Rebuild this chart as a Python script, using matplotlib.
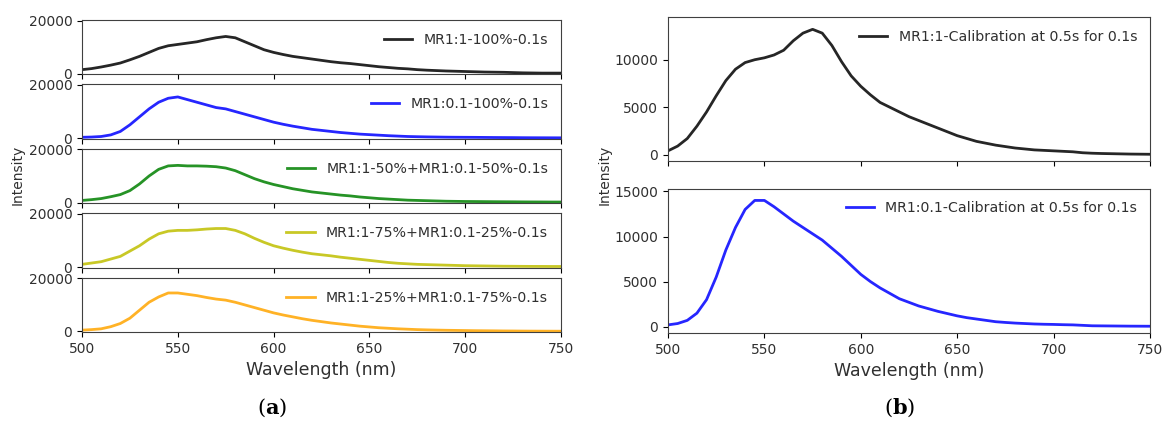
import matplotlib
matplotlib.use("Agg")
import matplotlib.pyplot as plt

wavelength = list(range(500, 751, 5))

mr1_100 = [1500, 1900, 2500, 3200, 4000, 5200, 6500, 8000, 9500, 10500,
           11000, 11500, 12000, 12800, 13500, 14000, 13500, 12000, 10500, 9000,
           8000, 7200, 6500, 6000, 5500, 5000, 4500, 4100, 3800, 3400,
           3000, 2600, 2300, 2000, 1800, 1500, 1300, 1150, 1000, 900,
           800, 700, 600, 550, 500, 400, 300, 250, 200, 200, 200]
mr01_100 = [300, 400, 600, 1200, 2500, 5000, 8000, 11000, 13500, 15000,
            15500, 14500, 13500, 12500, 11500, 11000, 10000, 9000, 8000, 7000,
            6000, 5200, 4500, 3900, 3300, 2900, 2500, 2100, 1800, 1500,
            1300, 1100, 900, 750, 600, 520, 450, 400, 350, 320,
            300, 280, 250, 220, 200, 180, 150, 130, 120, 110, 100]
mix_50_50 = [800, 1100, 1500, 2200, 3000, 4500, 7000, 10000, 12500, 13800,
             14000, 13800, 13800, 13700, 13500, 13000, 12000, 10500, 9000, 7800,
             6800, 6000, 5200, 4600, 4000, 3600, 3200, 2800, 2500, 2100,
             1800, 1500, 1300, 1100, 900, 800, 700, 600, 500, 450,
             400, 380, 350, 320, 300, 280, 250, 230, 220, 200, 200]
mix_75_25 = [1000, 1500, 2000, 3000, 4000, 6000, 8000, 10500, 12500, 13500,
             13800, 13800, 14000, 14300, 14500, 14500, 13800, 12500, 10800, 9300,
             8000, 7100, 6300, 5600, 5000, 4600, 4200, 3700, 3300, 2900,
             2500, 2100, 1700, 1400, 1200, 1000, 900, 800, 700, 600,
             500, 450, 400, 350, 300, 280, 250, 230, 220, 200, 200]
mix_25_75 = [500, 700, 1000, 1800, 3000, 5000, 8000, 11000, 13000, 14500,
             14500, 14000, 13500, 12800, 12200, 11800, 11000, 10000, 9000, 8000,
             7000, 6200, 5500, 4800, 4200, 3700, 3200, 2800, 2400, 2000,
             1700, 1400, 1200, 1000, 850, 700, 600, 520, 450, 400,
             350, 300, 270, 240, 200, 180, 150, 130, 120, 110, 100]
cal_mr1 = [400, 900, 1700, 3000, 4500, 6200, 7800, 9000, 9700, 10000,
           10200, 10500, 11000, 12000, 12800, 13200, 12800, 11500, 9800, 8300,
           7200, 6300, 5500, 5000, 4500, 4000, 3600, 3200, 2800, 2400,
           2000, 1700, 1400, 1200, 1000, 850, 700, 600, 500, 450,
           400, 350, 300, 200, 150, 120, 100, 80, 60, 50, 40]
cal_mr01 = [200, 350, 700, 1500, 3000, 5500, 8500, 11000, 13000, 14000,
            14000, 13300, 12500, 11700, 11000, 10300, 9600, 8700, 7800, 6800,
            5800, 5000, 4300, 3700, 3100, 2700, 2300, 2000, 1700, 1450,
            1200, 1000, 850, 700, 550, 470, 400, 350, 300, 270,
            250, 220, 200, 150, 100, 90, 80, 70, 60, 55, 50]

left_series = [mr1_100, mr01_100, mix_50_50, mix_75_25, mix_25_75]
left_labels = ["MR1:1-100%-0.1s", "MR1:0.1-100%-0.1s",
               "MR1:1-50%+MR1:0.1-50%-0.1s", "MR1:1-75%+MR1:0.1-25%-0.1s",
               "MR1:1-25%+MR1:0.1-75%-0.1s"]
left_colors = ["k", "b", "g", "y", "orange"]
right_series = [cal_mr1, cal_mr01]
right_labels = ["MR1:1-Calibration at 0.5s for 0.1s",
                "MR1:0.1-Calibration at 0.5s for 0.1s"]
right_colors = ["k", "b"]
xticks = [500, 550, 600, 650, 700, 750]

plt.rcParams['font.family'] = ['DejaVu Sans']
txt_col = '#303030'
plt.rcParams['text.color'] = txt_col
plt.rcParams['xtick.labelcolor'] = txt_col
plt.rcParams['ytick.labelcolor'] = txt_col
plt.rcParams['axes.labelcolor'] = txt_col
plt.rcParams['axes.edgecolor'] = '#404040'
plt.rcParams['mathtext.fontset'] = 'dejavuserif'

W, H = 1166, 425
fig = plt.figure(figsize=(W / 100, H / 100), dpi=100)

tick_fs = 10
label_fs = 12.5
leg_fs = 10.2
lw = 2.0

gl = fig.add_gridspec(5, 1, left=82 / W, right=561 / W, top=1 - 20 / H,
                      bottom=1 - 332 / H, hspace=0.19)
axes_l = []
for i, (ys, lab, c) in enumerate(zip(left_series, left_labels, left_colors)):
    ax = fig.add_subplot(gl[i, 0], sharex=axes_l[0] if axes_l else None)
    ax.plot(wavelength, ys, color=c, lw=lw, alpha=0.85, label=lab)
    ax.set_xlim(500, 750)
    ax.set_ylim(-200, 20200)
    ax.set_yticks([0, 20000])
    ax.set_xticks(xticks)
    ax.tick_params(labelsize=tick_fs)
    if i < 4:
        ax.tick_params(labelbottom=False)
    ax.legend(loc="upper right", frameon=False, fontsize=leg_fs,
              handlelength=2.0)
    axes_l.append(ax)
axes_l[-1].set_xlabel("Wavelength (nm)", fontsize=label_fs)
fig.text(18 / W, 1 - 175 / H, "Intensity", rotation=90, ha="center",
         va="center", fontsize=tick_fs)

gr = fig.add_gridspec(2, 1, left=668 / W, right=1150 / W, top=1 - 17 / H,
                      bottom=1 - 333 / H, hspace=0.19)
ylims_r = [(-700, 14500), (-700, 15300)]
yticks_r = [[0, 5000, 10000], [0, 5000, 10000, 15000]]
axes_r = []
for i, (ys, lab, c) in enumerate(zip(right_series, right_labels, right_colors)):
    ax = fig.add_subplot(gr[i, 0], sharex=axes_r[0] if axes_r else None)
    ax.plot(wavelength, ys, color=c, lw=lw, alpha=0.85, label=lab)
    ax.set_xlim(500, 750)
    ax.set_ylim(*ylims_r[i])
    ax.set_yticks(yticks_r[i])
    ax.set_xticks(xticks)
    ax.tick_params(labelsize=tick_fs)
    if i == 0:
        ax.tick_params(labelbottom=False)
    ax.legend(loc="upper right", frameon=False, fontsize=leg_fs,
              handlelength=2.0)
    axes_r.append(ax)
axes_r[-1].set_xlabel("Wavelength (nm)", fontsize=label_fs)
fig.text(605 / W, 1 - 175 / H, "Intensity", rotation=90, ha="center",
         va="center", fontsize=tick_fs)

fig.text(272 / W, 1 - 408 / H, r"($\mathbf{a}$)", ha="center", va="center",
         fontsize=15, family="DejaVu Serif", color="black")
fig.text(900 / W, 1 - 408 / H, r"($\mathbf{b}$)", ha="center", va="center",
         fontsize=15, family="DejaVu Serif", color="black")

fig.savefig("out.png", dpi=100)
